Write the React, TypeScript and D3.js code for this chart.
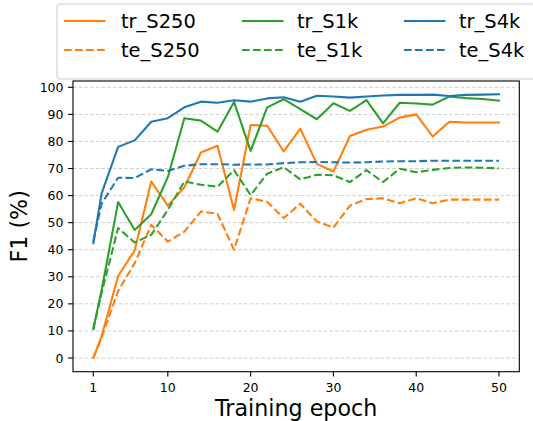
import React from "react";
import * as d3 from "d3";

const epochs = [1, 2, 4, 6, 8, 10, 12, 14, 16, 18, 20, 22, 24, 26, 28, 30, 32, 34, 36, 38, 40, 42, 44, 46, 48, 50];
const trS250 = [0, 8, 30.3, 39.7, 65.2, 56.3, 63.1, 75.9, 78.4, 54.7, 86.1, 85.8, 76.3, 84.7, 71.7, 68.9, 82, 84.3, 85.5, 88.8, 90, 81.8, 87.3, 87, 87, 87];
const teS250 = [0, 7.5, 24.8, 35, 49.2, 43, 46.7, 54.1, 53.3, 40, 59, 57.7, 51.7, 57, 50.4, 48.2, 56.3, 58.7, 59, 57.2, 59, 57.2, 58.5, 58.5, 58.5, 58.5];
const trS1k = [10.7, 25, 57.6, 47.3, 53.1, 66.8, 88.6, 87.7, 83.6, 94.6, 76.5, 92.6, 95.6, 91.9, 88.2, 94.1, 91.3, 95.3, 86.7, 94.3, 94, 93.6, 96.6, 96, 95.7, 95.1];
const teS1k = [10.5, 24, 48, 42.7, 45.5, 54.7, 65.2, 64, 63.3, 69.4, 60.2, 68.1, 70.5, 66, 67.7, 67.5, 65, 69.4, 65, 69.9, 68.6, 69.5, 70.2, 70.4, 70.3, 70.1];
const trS4k = [42.4, 60.7, 78, 80.4, 87.3, 88.6, 92.6, 94.7, 94.3, 95.2, 94.7, 95.9, 96.3, 94.7, 96.9, 96.6, 96.2, 96.6, 97, 97.2, 97.2, 97.3, 96.8, 97.2, 97.3, 97.4];
const teS4k = [43, 57, 66.6, 66.5, 69.7, 69.1, 71, 71.6, 71.6, 71.4, 71.5, 71.5, 72, 72.3, 72.4, 72.3, 72.2, 72.3, 72.6, 72.7, 72.7, 72.9, 72.9, 72.9, 72.9, 72.9];

const xTicks = [1, 10, 20, 30, 40, 50];
const yTicks = [0, 10, 20, 30, 40, 50, 60, 70, 80, 90, 100];

const seriesList = [
  { name: "tr_S250", values: trS250, color: "#ff7f0e", dashed: false },
  { name: "te_S250", values: teS250, color: "#ff7f0e", dashed: true },
  { name: "tr_S1k", values: trS1k, color: "#2ca02c", dashed: false },
  { name: "te_S1k", values: teS1k, color: "#2ca02c", dashed: true },
  { name: "tr_S4k", values: trS4k, color: "#1f77b4", dashed: false },
  { name: "te_S4k", values: teS4k, color: "#1f77b4", dashed: true },
];

const W = 533, H = 421;
const L = 73, R = 519.3, T = 81, B = 371.7;
const FONT = "DejaVu Sans, sans-serif";

export default function App() {
  const x = d3.scaleLinear().domain([-1.45, 52.45]).range([L, R]);
  const y = d3.scaleLinear().domain([-5.06, 102.33]).range([B, T]);
  const line = d3.line<number>().x((_, i) => x(epochs[i])).y((d) => y(d));
  const dash = "7.7,3.3";
  const legendCols = [
    { hx: 64, tx: 121 },
    { hx: 242, tx: 297 },
    { hx: 404, tx: 459 },
  ];
  const rowsY = [21, 50];
  return (
    <svg width={W} height={H} style={{ position: "absolute", left: 0, top: 0, background: "#fff" }} fontFamily={FONT}>
      <rect x={0} y={0} width={W} height={H} fill="#fff" />
      {/* grid */}
      {yTicks.map((t) => (
        <line key={"g" + t} x1={L} x2={R} y1={y(t)} y2={y(t)} stroke="#c8c8c8" strokeWidth={0.9} strokeDasharray="3.5,2.2" />
      ))}
      {/* lines */}
      <g clipPath="url(#clip)">
        {seriesList.map((s) => (
          <path key={s.name} d={line(s.values) || ""} fill="none" stroke={s.color} strokeWidth={2.08}
            strokeDasharray={s.dashed ? dash : undefined} strokeLinejoin="round" strokeLinecap={s.dashed ? "butt" : "square"} />
        ))}
      </g>
      <defs>
        <clipPath id="clip"><rect x={L} y={T} width={R - L} height={B - T} /></clipPath>
      </defs>
      {/* frame */}
      <rect x={L} y={T} width={R - L} height={B - T} fill="none" stroke="#000" strokeWidth={1.1} />
      {/* y ticks */}
      {yTicks.map((t) => (
        <g key={"y" + t}>
          <line x1={L - 4.9} x2={L} y1={y(t)} y2={y(t)} stroke="#000" strokeWidth={1.1} />
          <text x={L - 9.5} y={y(t)} dy="0.36em" textAnchor="end" fontSize={12.5} fill="#000">{t}</text>
        </g>
      ))}
      {/* x ticks */}
      {xTicks.map((t) => (
        <g key={"x" + t}>
          <line x1={x(t)} x2={x(t)} y1={B} y2={B + 4.9} stroke="#000" strokeWidth={1.1} />
          <text x={x(t)} y={391.5} textAnchor="middle" fontSize={12.5} fill="#000">{t}</text>
        </g>
      ))}
      {/* axis labels */}
      <text x={(L + R) / 2} y={416} textAnchor="middle" fontSize={22.2} fill="#000">Training epoch</text>
      <text transform={`translate(27,${(T + B) / 2}) rotate(-90)`} textAnchor="middle" fontSize={22.2} fill="#000">F1 (%)</text>
      {/* legend */}
      <rect x={57} y={4} width={490} height={75} rx={3} fill="#fff" fillOpacity={0.8} stroke="#cccccc" strokeWidth={1} />
      {seriesList.map((s, i) => {
        const col = legendCols[Math.floor(i / 2)];
        const ry = rowsY[i % 2];
        return (
          <g key={"lg" + s.name}>
            <line x1={col.hx} x2={col.hx + 41.5} y1={ry} y2={ry} stroke={s.color} strokeWidth={2.08}
              strokeDasharray={s.dashed ? dash : undefined} />
            <text x={col.tx} y={ry} dy="0.36em" fontSize={19.44} fill="#000">{s.name}</text>
          </g>
        );
      })}
    </svg>
  );
}
